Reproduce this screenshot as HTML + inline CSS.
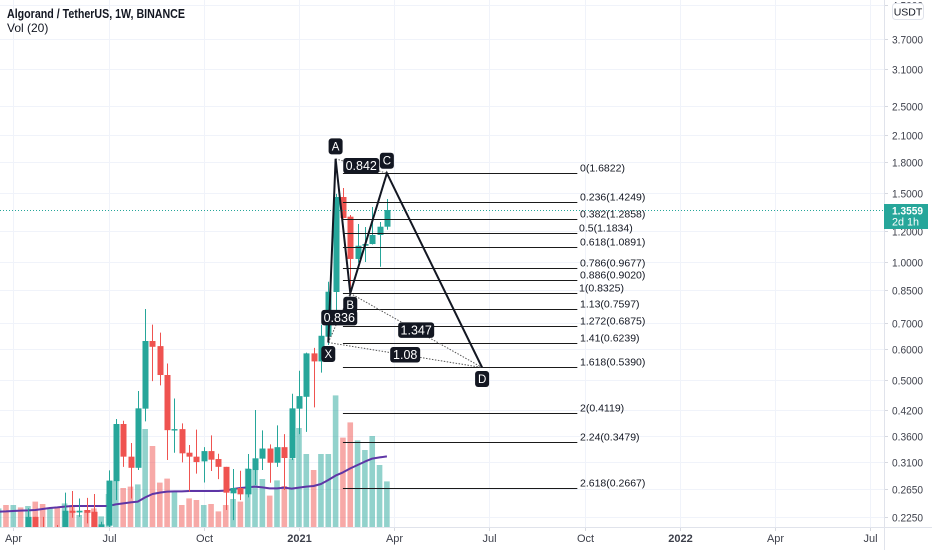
<!DOCTYPE html>
<html>
<head>
<meta charset="utf-8">
<title>Algorand / TetherUS chart</title>
<style>
html,body{margin:0;padding:0;background:#fff;}
#stage{width:932px;height:550px;display:block;font-family:"Liberation Sans",sans-serif;}
</style>
</head>
<body>
<svg id="stage" xmlns="http://www.w3.org/2000/svg" width="932" height="550" viewBox="0 0 932 550">
  <defs><clipPath id="pane"><rect x="0" y="0" width="884" height="527"/></clipPath></defs>
  <g id="grid"></g>
  <g id="plot" clip-path="url(#pane)">
    <g id="volumes"></g>
    <g id="ma"></g>
    <g id="candles"></g>
    <g id="lastline"></g>
    <g id="fib"></g>
    <g id="pattern"></g>
  </g>
  <g id="axes"></g>
  <g id="legend">
    <text x="7" y="18" font-size="12.5" font-weight="bold" fill="#131722" textLength="178" lengthAdjust="spacingAndGlyphs">Algorand / TetherUS, 1W, BINANCE</text>
    <text x="7" y="32" font-size="12" fill="#131722">Vol (20)</text>
  </g>
  <g>
    <rect x="892.5" y="3.5" width="31" height="16" rx="3" fill="#fff" stroke="#e0e3eb"/>
    <text x="908" y="15.5" font-size="10.5" fill="#131722" text-anchor="middle">USDT</text>
  </g>
  <g id="lastbox"></g>
</svg>
<script>
// ---- chart data ----
const priceTicks = [4.5, 3.7, 3.1, 2.5, 2.1, 1.8, 1.5, 1.2, 1.0, 0.85, 0.7, 0.6, 0.5, 0.42, 0.36, 0.31, 0.265, 0.225];
const timeTickWeeks = [2, 15, 28, 41, 54, 67, 80, 93, 106, 119];
const timeTickLabels = ["Apr", "Jul", "Oct", "2021", "Apr", "Jul", "Oct", "2022", "Apr", "Jul"];
const candleOpen = [.205,.206,.204,.207,.205,.2247,.205,.2,.21,.21,.2329,.2306,.2339,.2315,.209,.2134,.277,.3871,.3197,.2995,.4235,.6295,.611,.5158,.3726,.3757,.3272,.3197,.311,.3303,.3153,.3012,.2579,.2661,.2564,.2956,.316,.3353,.3085,.338,.3172,.4235,.454,.5855,.5586,.6456,.8389,1.4634,1.304,1.018,1.1,1.111,1.1714,1.2297];
const candleHigh = [.208,.209,.209,.21,.2362,.2247,.2247,.208,.2142,.2589,.2615,.2502,.2512,.2568,.2184,.295,.3985,.3947,.3463,.4696,.7593,.6928,.6614,.5519,.4494,.3886,.3422,.3745,.338,.3621,.3253,.3012,.2975,.2944,.3247,.4201,.3728,.3435,.384,.3649,.4622,.529,.588,.6048,.6925,.891,1.49,1.543,1.317,1.249,1.2276,1.38,1.264,1.4464];
const candleLow = [.2,.2,.2,.2,.2,.2,.2,.195,.2,.205,.2235,.2247,.2163,.205,.205,.21,.2478,.3012,.2502,.2956,.3932,.4975,.4853,.3135,.3272,.3091,.2604,.2894,.2748,.2939,.2803,.2339,.2205,.2478,.2518,.2707,.2956,.2743,.3012,.263,.3135,.3649,.3696,.4268,.523,.615,.7288,1.29,.8487,.996,1.0,1.108,.9729,1.208];
const candleClose = [.206,.204,.207,.205,.2247,.205,.2,.205,.205,.2329,.2301,.2329,.2301,.209,.215,.2779,.3871,.3197,.2995,.4243,.6295,.6085,.5158,.3734,.3757,.326,.3197,.3097,.3303,.3141,.3012,.2589,.2661,.2564,.2975,.3166,.3353,.3085,.338,.3172,.4243,.4558,.5855,.5586,.6491,.8403,1.4634,1.294,1.018,1.1,1.111,1.1714,1.2297,1.3559];
const volumeValues = [9.3,11,11,9.8,10.5,12.7,11.5,9.3,10.2,11.8,10.2,6,8.5,9.3,5.3,16.5,23,19.5,20.2,21.3,49,40.5,22.2,24.2,17.7,11,14.3,13.5,11,11.5,7.8,11,14,12.7,29.3,28.5,24,15.7,23.3,20.5,34.3,49.5,36.5,28.5,36.5,36.5,65.8,44.7,52.3,43.3,38.5,45.5,31,22.8];
const volumeAverage = [7.7,7.8,8,8.2,8.3,8.5,9,9.5,9.8,10.2,10.5,10.5,10.5,10.5,10.5,10.5,11.3,11.8,12.3,12.7,14.8,16.5,17.2,17.7,17.8,17.8,18,18,18,18,18,18.2,19,19.5,19.8,20.2,19.8,19.3,19.3,19.7,19.2,19.7,20.2,20.5,21.5,23.5,25.7,27.3,29.3,31,32.7,34.2,34.8,35.3];
const lastPrice = 1.3559;
const fibLevels = ["0","0.236","0.382","0.5","0.618","0.786","0.886","1","1.13","1.272","1.41","1.618","2","2.24","2.618"];
const fibPrices = [1.6822,1.4249,1.2858,1.1834,1.0891,0.9677,0.9020,0.8325,0.7597,0.6875,0.6239,0.5390,0.4119,0.3479,0.2667];
const fibStartWeek = 47;
const fibEndWeek = 79;
const patternNames = ["X","A","B","C","D"];
const patternWeeks = [45,46,48,53,66];
const patternPrices = [0.6239,1.83,0.8325,1.6822,0.539];
const ratioFrom = [0,1,2,0];
const ratioTo = [2,3,4,4];
const ratioText = ["0.836","0.842","1.347","1.08"];

// ---- axis functions ----
function xAt(week){ return 13.3 + (week - 2) * 7.325; }
function yPrice(p){ return 262 - 170.7 * Math.log(p); }
function yVol(v){ return 527 - v * 2; }

const NS = "http://www.w3.org/2000/svg";
function make(tag, parent, props, text){
  const el = document.createElementNS(NS, tag);
  for (const k in props) el.setAttribute(k, props[k]);
  if (text !== undefined) el.textContent = text;
  parent.appendChild(el);
  return el;
}
const gGrid = document.getElementById("grid");
const gVol = document.getElementById("volumes");
const gMa = document.getElementById("ma");
const gCandles = document.getElementById("candles");
const gLast = document.getElementById("lastline");
const gFib = document.getElementById("fib");
const gPat = document.getElementById("pattern");
const gAxes = document.getElementById("axes");
const gBox = document.getElementById("lastbox");
const GREEN = "#26a69a", RED = "#ef5350", INK = "#131722";

// grid + price axis
priceTicks.forEach(function(p){
  const y = Math.round(yPrice(p)) + 0.5;
  const line = make("line", gGrid, {x1:0, x2:884, y1:y, y2:y, stroke:"#f0f3fa", "stroke-width":1});
  
  
  const tick = make("line", gAxes, {x1:884, x2:888, y1:y, y2:y, stroke:"#d6d9e0", "stroke-width":1});
  
  
  const label = make("text", gAxes, {x:892, y:y+4, "font-size":10.8, fill:"#3c3f4a", textLength:31, lengthAdjust:"spacingAndGlyphs"}, p.toFixed(4));
  
  
});
// time axis
timeTickWeeks.forEach(function(w, i){
  const x = Math.round(xAt(w)) + 0.5;
  const line = make("line", gGrid, {x1:x, x2:x, y1:0, y2:527, stroke:"#f0f3fa", "stroke-width":1});
  
  
  const tick = make("line", gAxes, {x1:x, x2:x, y1:527, y2:531, stroke:"#d6d9e0", "stroke-width":1});
  
  
  const label = make("text", gAxes, {x:x, y:542, "font-size":11, fill:"#3c3f4a", "text-anchor":"middle", "font-weight": timeTickLabels[i].length === 4 ? "bold" : "normal"}, timeTickLabels[i]);
  
  
});
const yAxisLine = make("line", gAxes, {x1:884.5, x2:884.5, y1:0, y2:550, stroke:"#e0e3eb", "stroke-width":1});


const xAxisLine = make("line", gAxes, {x1:0, x2:932, y1:527.5, y2:527.5, stroke:"#e0e3eb", "stroke-width":1});



// volume bars
volumeValues.forEach(function(v, i){
  const up = candleClose[i] >= candleOpen[i];
  const top = yVol(v);
  const bar = make("rect", gVol, {x:xAt(i)-2.8, y:top, width:5.6, height:527-top, fill: up ? GREEN : RED, "fill-opacity":0.5});
  
  
});
// volume MA
const maPath = make("polyline", gMa, {points: volumeAverage.map(function(v, i){ return xAt(i).toFixed(1) + "," + yVol(v).toFixed(1); }).join(" "), fill:"none", stroke:"#5e35a6", "stroke-width":2, "stroke-linejoin":"round"});



// candles
candleOpen.forEach(function(o, i){
  const c = candleClose[i];
  const col = c >= o ? GREEN : RED;
  const cx = Math.round(xAt(i));
  const wick = make("line", gCandles, {x1:cx+0.5, x2:cx+0.5, y1:yPrice(candleHigh[i]), y2:yPrice(candleLow[i]), stroke:col, "stroke-width":1});
  
  
  const t = yPrice(Math.max(o, c)), b = yPrice(Math.min(o, c));
  const body = make("rect", gCandles, {x:cx-2.5, y:t, width:6, height:Math.max(1, b-t), fill:col});
  
  
});

// last price line
const lastY = Math.round(yPrice(lastPrice)) + 0.5;
const lastLine = make("line", gLast, {x1:0, x2:884, y1:lastY, y2:lastY, stroke:GREEN, "stroke-width":1, "stroke-dasharray":"1 2"});


const lastRect = make("rect", gBox, {x:884, y:lastY-6.5, width:44, height:25, fill:GREEN});


const lastText = make("text", gBox, {x:892, y:lastY+4, "font-size":10.8, fill:"#fff", "font-weight":"bold", textLength:31, lengthAdjust:"spacingAndGlyphs"}, lastPrice.toFixed(4));


const lastCount = make("text", gBox, {x:892, y:lastY+15, "font-size":10.8, fill:"#fff"}, "2d 1h");



// fibonacci
fibLevels.forEach(function(level, i){
  const y = Math.round(yPrice(fibPrices[i])) + 0.5;
  const line = make("line", gFib, {x1:xAt(fibStartWeek), x2:xAt(fibEndWeek), y1:y, y2:y, stroke:"#1a1a1a", "stroke-width":1});
  
  
  const label = make("text", gFib, {x:(level === "0.5" || level === "1") ? 579 : 580, y:y-2, "font-size":10.5, fill:"#131722"}, level + "(" + fibPrices[i].toFixed(4) + ")");
  
  
});

// harmonic pattern
const px = patternWeeks.map(xAt);
const py = patternPrices.map(yPrice);
ratioFrom.forEach(function(a, i){
  const b = ratioTo[i];
  const dot = make("line", gPat, {x1:px[a], y1:py[a], x2:px[b], y2:py[b], stroke:"#555", "stroke-width":1, "stroke-dasharray":"1.5 1.5"});
  
  
});
const legPath = make("polyline", gPat, {points: px.map(function(x, i){ return x.toFixed(1) + "," + py[i].toFixed(1); }).join(" "), fill:"none", stroke:"#131722", "stroke-width":2, "stroke-linejoin":"miter", "stroke-miterlimit":10});


ratioText.forEach(function(t, i){
  const a = ratioFrom[i], b = ratioTo[i];
  const cx = (px[a] + px[b]) / 2, cy = (py[a] + py[b]) / 2;
  const w = t.length * 6 + 6;
  const box = make("rect", gPat, {x:cx-w/2, y:cy-8, width:w, height:15.5, rx:3, fill:INK});
  
  
  const txt = make("text", gPat, {x:cx, y:cy+4, "font-size":12.5, fill:"#fff", "text-anchor":"middle"}, t);
  
  
});
patternNames.forEach(function(n, i){
  const above = i % 2 === 1;
  const cx = px[i], cy = py[i] + (above ? -12.5 : 11.5);
  const box = make("rect", gPat, {x:cx-7, y:cy-8, width:14, height:16, rx:3, fill:INK});
  
  
  const txt = make("text", gPat, {x:cx, y:cy+4, "font-size":11.5, fill:"#fff", "text-anchor":"middle"}, n);
  
  
});
</script>
</body>
</html>
